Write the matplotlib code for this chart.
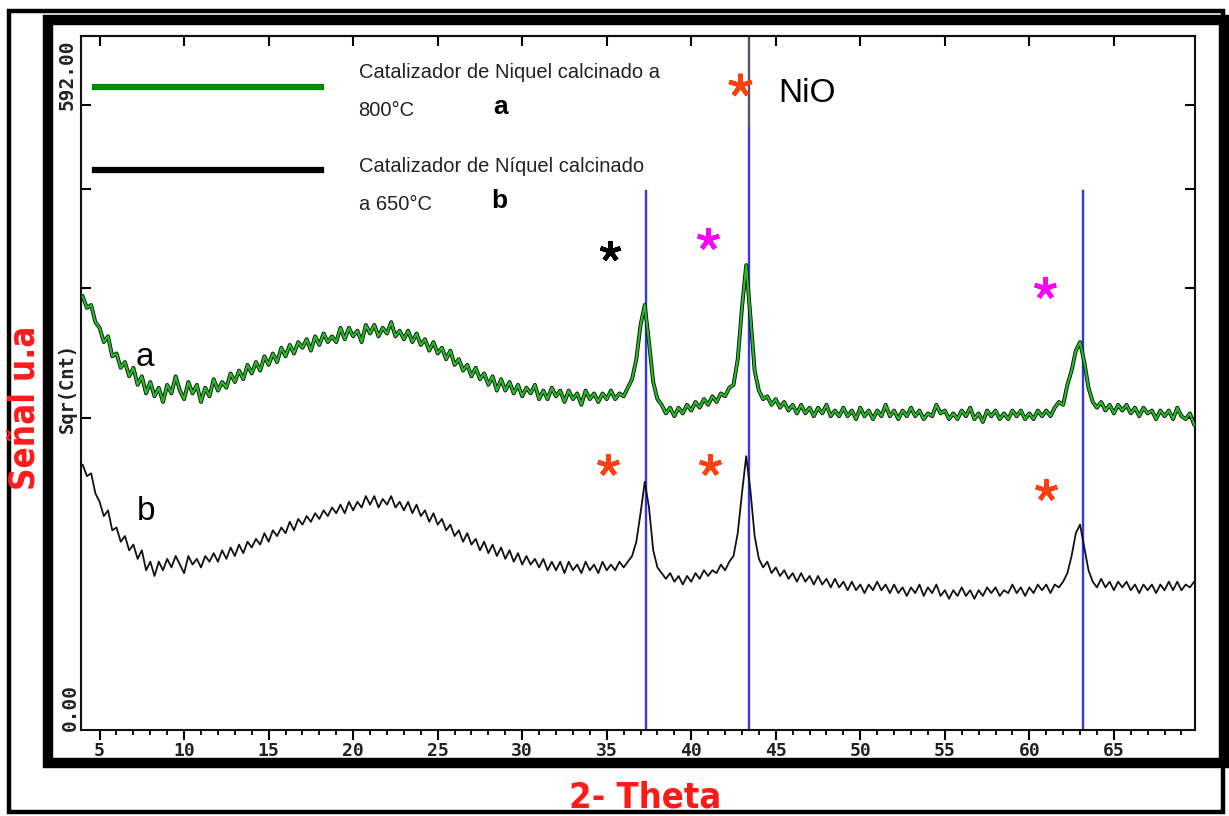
import numpy as np
import matplotlib
matplotlib.use("Agg")
import matplotlib.pyplot as plt
import matplotlib.patheffects as pe
from matplotlib.lines import Line2D
from matplotlib.patches import Rectangle

W, H = 1229, 816

# 2-theta grid of the scan (degrees)
theta_start = 4.0
theta_step = 0.25

# sqrt(counts), sample a: calcined at 800 C (one row = 5 degrees)
signal_a = [
    15.2, 14.8, 14.9, 14.3, 14.1, 13.6, 13.8, 13.1, 13.2, 12.7, 12.9, 12.4, 12.7, 12.1, 12.4, 11.8, 12.2, 11.7, 12.0, 11.5,
    12.1, 11.8, 12.4, 11.9, 11.6, 12.2, 11.8, 12.1, 11.5, 12.0, 11.7, 12.3, 11.9, 12.2, 12.0, 12.5, 12.2, 12.6, 12.3, 12.8,
    12.5, 12.9, 12.6, 13.1, 12.8, 13.2, 12.9, 13.4, 13.1, 13.5, 13.2, 13.6, 13.4, 13.7, 13.3, 13.8, 13.5, 13.9, 13.6, 13.8,
    13.6, 14.1, 13.7, 14.1, 13.8, 14.0, 13.6, 14.2, 13.9, 14.2, 13.8, 14.1, 13.9, 14.3, 13.8, 14.0, 13.7, 14.0, 13.6, 13.9,
    13.5, 13.7, 13.3, 13.6, 13.2, 13.4, 13.0, 13.3, 12.8, 13.0, 12.6, 12.8, 12.4, 12.7, 12.3, 12.5, 12.1, 12.4, 11.9, 12.3,
    11.9, 12.2, 11.8, 12.1, 11.7, 12.0, 11.8, 12.1, 11.6, 11.9, 11.6, 12.0, 11.7, 11.9, 11.5, 11.9, 11.6, 11.8, 11.4, 11.9,
    11.6, 11.8, 11.5, 11.8, 11.6, 11.9, 11.6, 11.8, 11.7, 12.0, 12.3, 13.0, 14.2, 14.9, 13.6, 12.2, 11.6, 11.4, 11.1, 11.3,
    11.0, 11.3, 11.1, 11.4, 11.2, 11.5, 11.3, 11.6, 11.4, 11.7, 11.5, 11.8, 11.7, 12.0, 12.1, 13.0, 14.8, 16.3, 14.5, 12.6,
    11.9, 11.6, 11.7, 11.4, 11.6, 11.3, 11.5, 11.2, 11.4, 11.1, 11.4, 11.1, 11.3, 11.0, 11.3, 11.1, 11.4, 11.0, 11.2, 11.0,
    11.3, 11.0, 11.2, 10.9, 11.3, 11.0, 11.2, 10.9, 11.2, 11.0, 11.4, 11.0, 11.2, 10.9, 11.2, 11.0, 11.3, 11.0, 11.2, 10.9,
    11.1, 11.0, 11.4, 11.1, 11.2, 10.9, 11.1, 10.9, 11.2, 11.0, 11.3, 10.9, 11.1, 10.8, 11.2, 11.0, 11.2, 10.9, 11.1, 10.9,
    11.2, 11.0, 11.2, 10.9, 11.1, 10.9, 11.2, 11.0, 11.2, 11.0, 11.3, 11.5, 11.4, 12.1, 12.6, 13.3, 13.6, 12.9, 12.0, 11.5,
    11.3, 11.5, 11.2, 11.4, 11.1, 11.4, 11.2, 11.4, 11.1, 11.3, 11.0, 11.3, 11.1, 11.2, 10.9, 11.2, 11.0, 11.2, 10.9, 11.3,
    11.0, 10.9, 11.1, 10.7, 10.6,
]

# sqrt(counts), sample b: calcined at 650 C
signal_b = [
    9.3, 8.9, 9.0, 8.3, 8.0, 7.5, 7.7, 7.0, 7.1, 6.6, 6.8, 6.3, 6.5, 6.0, 6.3, 5.6, 5.9, 5.4, 5.9, 5.6,
    6.0, 5.7, 6.1, 5.8, 5.5, 6.1, 5.8, 6.0, 5.7, 6.1, 5.9, 6.2, 5.9, 6.3, 6.0, 6.4, 6.1, 6.5, 6.2, 6.6,
    6.4, 6.7, 6.5, 6.9, 6.6, 7.0, 6.8, 7.1, 6.9, 7.3, 7.0, 7.4, 7.2, 7.5, 7.3, 7.6, 7.4, 7.7, 7.5, 7.8,
    7.6, 7.9, 7.6, 8.0, 7.7, 8.0, 7.8, 8.2, 7.9, 8.2, 7.8, 8.1, 7.9, 8.2, 7.8, 8.0, 7.7, 8.0, 7.6, 7.9,
    7.5, 7.7, 7.3, 7.6, 7.2, 7.4, 7.0, 7.2, 6.8, 7.0, 6.6, 6.9, 6.5, 6.7, 6.3, 6.6, 6.2, 6.5, 6.1, 6.4,
    6.0, 6.3, 5.9, 6.2, 5.8, 6.1, 5.8, 6.0, 5.7, 6.0, 5.6, 5.9, 5.6, 5.9, 5.5, 5.9, 5.6, 5.8, 5.5, 5.9,
    5.6, 5.8, 5.5, 5.9, 5.6, 5.8, 5.6, 5.9, 5.7, 5.9, 6.1, 6.6, 7.6, 8.7, 7.8, 6.3, 5.7, 5.5, 5.3, 5.5,
    5.2, 5.4, 5.1, 5.4, 5.2, 5.5, 5.3, 5.6, 5.4, 5.6, 5.5, 5.8, 5.6, 5.9, 6.1, 6.9, 8.3, 9.6, 8.4, 6.8,
    6.0, 5.7, 5.9, 5.5, 5.7, 5.4, 5.6, 5.3, 5.5, 5.2, 5.5, 5.2, 5.4, 5.1, 5.4, 5.1, 5.3, 5.0, 5.3, 5.0,
    5.2, 4.9, 5.2, 4.9, 5.1, 4.8, 5.1, 4.9, 5.2, 4.9, 5.1, 4.8, 5.1, 4.8, 5.0, 4.7, 5.0, 4.8, 5.1, 4.7,
    5.0, 4.8, 5.1, 4.7, 4.9, 4.6, 4.9, 4.7, 5.0, 4.7, 4.9, 4.6, 4.9, 4.7, 5.0, 4.8, 5.0, 4.7, 4.9, 4.8,
    5.1, 4.8, 5.0, 4.7, 5.0, 4.8, 5.1, 4.9, 5.1, 4.8, 5.1, 5.0, 5.2, 5.5, 6.1, 6.9, 7.2, 6.4, 5.6, 5.2,
    5.0, 5.3, 5.0, 5.2, 4.9, 5.2, 5.0, 5.2, 4.9, 5.1, 4.8, 5.1, 4.9, 5.1, 4.8, 5.1, 4.9, 5.2, 4.9, 5.2,
    4.9, 5.1, 5.0, 5.2, 4.9,
]

# NiO reference pattern (2-theta, sqrt(counts) height)
nio_theta = [37.35, 43.4, 63.15]
nio_height = [18.9, 21.1, 18.9]

y_max_counts = 592.0
count_ticks = [120, 240, 360, 480]
x_major = [5, 10, 15, 20, 25, 30, 35, 40, 45, 50, 55, 60, 65]

# asterisk marks: (2-theta, sqrt(counts), colour)
star_theta = [42.9, 35.2, 41.0, 60.9, 35.1, 41.1, 61.0]
star_level = [22.6, 16.8, 17.2, 15.5, 9.3, 9.3, 8.4]
star_color = ["#ff4010", "black", "#ff00ff", "#ff00ff", "#ff4010", "#ff4010", "#ff4010"]
star_size = [17, 15, 16, 16, 16, 16, 16]


def fxy(px, py):
    return px / W, 1 - py / H


theta = theta_start + theta_step * np.arange(len(signal_a))

fig = plt.figure(figsize=(W / 100, H / 100), dpi=100)
ax_l, ax_t, ax_r, ax_b = 81, 36, 1195, 730
ax = fig.add_axes([ax_l / W, 1 - ax_b / H, (ax_r - ax_l) / W, (ax_b - ax_t) / H])

for x0, h in zip(nio_theta, nio_height):
    ax.plot([x0, x0], [0, h], color="#3535ea", lw=1.7, zorder=2)
ax.plot([nio_theta[1], nio_theta[1]], [nio_height[1], np.sqrt(y_max_counts)],
        color="#555566", lw=1.7, zorder=2)

ax.plot(theta, signal_b, color="#111111", lw=1.3, zorder=3)
ax.plot(theta, signal_a, color="#22c022", lw=1.5, zorder=4,
        path_effects=[pe.Stroke(linewidth=2.8, foreground="#111111"), pe.Normal()])

for x0, y0, c, s in zip(star_theta, star_level, star_color, star_size):
    ax.plot(x0, y0, marker=(5, 2, 0), ms=s, mew=3.2, color=c, zorder=5)

ax.set_xlim(3.9, 69.8)
ax.set_ylim(0, np.sqrt(y_max_counts))
ax.set_xticks(x_major)
ax.set_xticks(np.arange(5, 70), minor=True)
ax.set_xticklabels([str(v) for v in x_major], family="DejaVu Sans Mono",
                   fontweight="bold", fontsize=13, color="#222222")
ax.tick_params(axis="x", which="major", direction="out", length=7, width=1.5, pad=2)
ax.tick_params(axis="x", which="minor", direction="out", length=3.5, width=1.3)
ax.set_yticks(np.sqrt(count_ticks))
ax.tick_params(axis="y", direction="in", length=7, width=1.5, left=True, right=True,
               labelleft=False)
for sp in ax.spines.values():
    sp.set_linewidth(1.5)
    sp.set_color("#111111")

top = ax.secondary_xaxis("top")
top.set_xticks(x_major)
top.tick_params(direction="in", length=7, width=1.5, labeltop=False)
top.spines["top"].set_linewidth(1.5)

# frames
fig.patches.append(Rectangle(fxy(9, 812), 1214 / W, 801 / H, transform=fig.transFigure,
                             fill=False, lw=3.2, ec="black"))
fig.patches.append(Rectangle(fxy(48, 763), (1224 - 48) / W, (763 - 20) / H,
                             transform=fig.transFigure, fill=False, lw=7.5, ec="black"))

# legend
fig.lines.append(Line2D([95 / W, 321 / W], [1 - 87 / H] * 2, transform=fig.transFigure,
                        color="#008a00", lw=4.5))
fig.lines.append(Line2D([95 / W, 321 / W], [1 - 170 / H] * 2, transform=fig.transFigure,
                        color="black", lw=4.5))
leg_font = dict(family="Liberation Sans", fontsize=14.5, color="#222222", ha="left", va="center")
fig.text(*fxy(359, 73), "Catalizador de Niquel calcinado a", **leg_font)
fig.text(*fxy(358, 110), "800°C", **leg_font)
fig.text(*fxy(359, 167), "Catalizador de Níquel calcinado", **leg_font)
fig.text(*fxy(359, 205), "a 650°C", **leg_font)
fig.text(*fxy(501, 107), "a", fontsize=19, fontweight="bold", ha="center", va="center",
         family="Liberation Sans")
fig.text(*fxy(499, 201), "b", fontsize=19, fontweight="bold", ha="center", va="center",
         family="Liberation Sans")

fig.text(*fxy(778, 93), "NiO", fontsize=24, family="Liberation Sans", ha="left", va="center")
fig.text(*fxy(145, 358), "a", fontsize=24, family="Liberation Sans", ha="center", va="center")
fig.text(*fxy(146, 512), "b", fontsize=24, family="Liberation Sans", ha="center", va="center")

# axis texts
mono = dict(family="DejaVu Sans Mono", rotation=90, ha="center", color="#222222")
fig.text(*fxy(67, 40), "592.00", va="top", fontweight="bold", fontsize=14, **mono)
fig.text(*fxy(70, 731), "0.00", va="bottom", fontweight="bold", fontsize=14, **mono)
fig.text(*fxy(67, 388), "Sqr(Cnt)", va="center", fontweight="bold", fontsize=13.5, **mono)

red = dict(family=["Liberation Sans Narrow", "DejaVu Sans"], fontweight="bold",
           fontstretch="condensed", color="#ff1a1a", ha="center", va="center")
fig.text(*fxy(26, 408), "Señal u.a", rotation=90, fontsize=25, **red)
fig.text(*fxy(645, 798), "2- Theta", fontsize=26, **red)

fig.savefig("out.png", dpi=100, facecolor="white")
